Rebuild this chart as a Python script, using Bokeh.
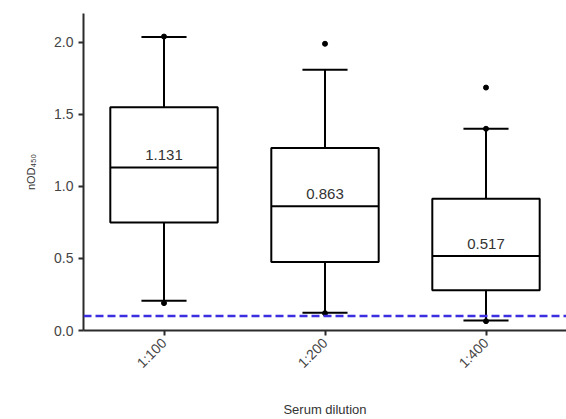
import math
from bokeh.plotting import figure
from bokeh.models import ColumnDataSource, FixedTicker, Span
from bokeh.core.properties import value
from bokeh.transform import dodge
from bokeh.embed import file_html
from bokeh.resources import INLINE

categories = ["1:100", "1:200", "1:400"]
q1 = [0.75, 0.475, 0.28]
medians = [1.131, 0.863, 0.517]
q3 = [1.55, 1.266, 0.915]
whisker_low = [0.206, 0.124, 0.07]
whisker_high = [2.037, 1.81, 1.40]
points_x = [1, 1, 2, 2, 3, 3, 3]
points_y = [2.04, 0.19, 1.99, 0.12, 1.686, 1.40, 0.065]
cutoff = 0.1
y_ticks = [0.0, 0.5, 1.0, 1.5, 2.0]

xs = [1, 2, 3]
FONT = "Liberation Sans"
DARK = "#2b2b2b"

p = figure(width=566, height=419, x_range=(0.5, 3.5), y_range=(0, 2.2),
           output_backend="svg", toolbar_location=None,
           min_border_left=83, min_border_right=0, min_border_top=13, min_border_bottom=87)
p.outline_line_color = None
p.xgrid.visible = False
p.ygrid.visible = False

src = ColumnDataSource(dict(x=xs, q1=q1, med=medians, q3=q3, lo=whisker_low, hi=whisker_high,
                            lbl=[f"{m:.3f}" for m in medians]))

box_w = 0.667
cap_w = 0.28
p.segment(x0="x", y0="q3", x1="x", y1="hi", source=src, line_color="black", line_width=2)
p.segment(x0="x", y0="lo", x1="x", y1="q1", source=src, line_color="black", line_width=2)
p.vbar(x="x", width=box_w, bottom="q1", top="q3", source=src, fill_color="white",
       line_color="black", line_width=2)
p.segment(x0=dodge("x", -box_w / 2), y0="med", x1=dodge("x", box_w / 2), y1="med",
          source=src, line_color="black", line_width=2)
p.segment(x0=dodge("x", -cap_w / 2), y0="hi", x1=dodge("x", cap_w / 2), y1="hi",
          source=src, line_color="black", line_width=2)
p.segment(x0=dodge("x", -cap_w / 2), y0="lo", x1=dodge("x", cap_w / 2), y1="lo",
          source=src, line_color="black", line_width=2)
p.scatter(x=points_x, y=points_y, size=5, color="black")

p.text(x="x", y=dodge("med", 0.085), text="lbl", source=src, text_align="center",
       text_baseline="alphabetic", text_font=value(FONT), text_font_size="15px",
       text_color="#333333")

p.add_layout(Span(location=cutoff, dimension="width", line_color="#3b2fe0",
                  line_width=2.5, line_dash="8 4"))

p.xaxis.ticker = FixedTicker(ticks=xs)
p.xaxis.major_label_overrides = {i + 1: c for i, c in enumerate(categories)}
p.xaxis.major_label_orientation = math.pi / 4
p.yaxis.ticker = FixedTicker(ticks=y_ticks)
p.yaxis.major_label_overrides = {t: f"{t:.1f}" for t in y_ticks}

for ax in (p.xaxis, p.yaxis):
    ax.axis_line_width = 2
    ax.axis_line_color = DARK
    ax.major_tick_line_color = DARK
    ax.major_tick_line_width = 2
    ax.major_tick_out = 5
    ax.major_tick_in = 0
    ax.minor_tick_line_color = None
    ax.major_label_text_font = FONT
    ax.major_label_text_font_size = "14px"
    ax.major_label_text_color = "#444444"
    ax.axis_label_text_font = FONT
    ax.axis_label_text_font_style = "normal"
    ax.axis_label_text_color = "#333333"

p.xaxis.axis_label = "Serum dilution"
p.xaxis.axis_label_text_font_size = "13px"
p.xaxis.axis_label_standoff = 22
p.yaxis.axis_label = "nOD₄₅₀"
p.yaxis.axis_label_text_font_size = "11px"
p.yaxis.axis_label_standoff = 14

open("out.html", "w").write(file_html(p, INLINE))
